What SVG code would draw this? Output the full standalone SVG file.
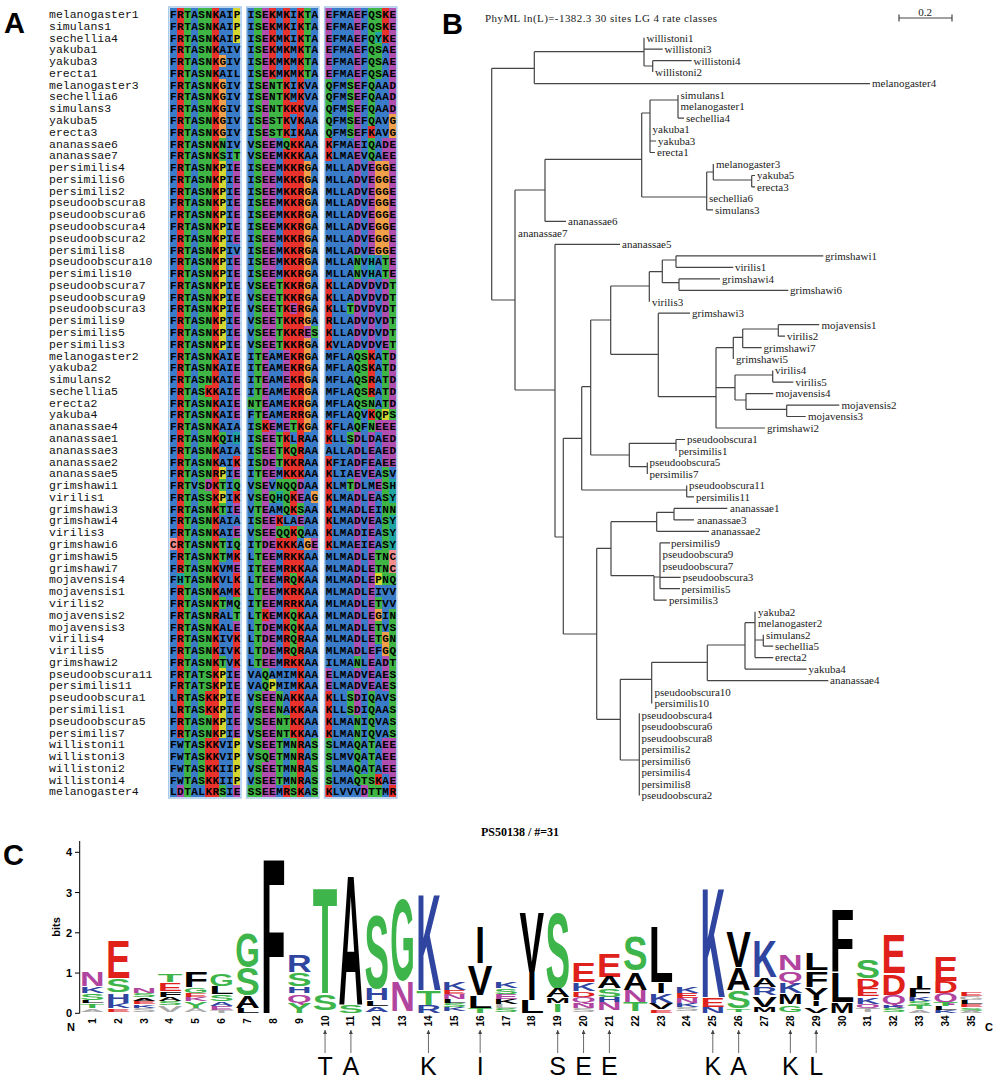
<svg xmlns="http://www.w3.org/2000/svg" width="1000" height="1085" viewBox="0 0 1000 1085">
<style>
.b{fill:#3a7cc8}.r{fill:#e8322b}.g{fill:#3fb545}.m{fill:#b04fb0}.o{fill:#f0a04a}.y{fill:#d6d630}.c{fill:#1fa3a3}.p{fill:#f08c8c}
.pl{font-family:'Liberation Sans',Arial,sans-serif;font-weight:bold;font-size:29px;fill:#000}
.nm{font-family:'Liberation Mono','Courier New',monospace;font-size:11.5px;fill:#111}
.sq{font-family:'Liberation Mono','Courier New',monospace;font-weight:bold;font-size:11px;fill:#000}
.tl{font-family:'Liberation Serif','Times New Roman',serif;font-size:11px;fill:#222}
.tr{fill:none;stroke:#444;stroke-width:1.2}
.L{font-family:'Liberation Sans',Arial,sans-serif;font-weight:bold;font-size:100px}
.lg{fill:#3db54a}.lb{fill:#2f45a0}.lr{fill:#e0201b}.lm{fill:#b0449e}.lk{fill:#000}.lx{fill:#aaa}
.ax{font-family:'Liberation Sans',Arial,sans-serif;font-weight:bold;font-size:11px;fill:#000}
.cn{font-family:'Liberation Sans',Arial,sans-serif;font-weight:bold;font-size:10px;fill:#000}
.al{font-family:'Liberation Sans',Arial,sans-serif;font-size:25px;fill:#000}
</style>
<defs>
<marker id="ah" viewBox="0 0 6 6" refX="6" refY="3" markerWidth="5" markerHeight="5" orient="auto"><path d="M0,0 L6,3 L0,6 z" fill="#444"/></marker>
</defs>
<rect width="1000" height="1085" fill="#fff"/>

<!-- Panel A -->
<g id="panelA">
<text class="pl" x="4" y="33">A</text>
<g id="aln-colors" transform="translate(169.5,8) scale(7.08,11.78)" shape-rendering="crispEdges">
<rect class="b" x="0" y="0" width="1" height="67"/><rect class="p" x="0" y="45" width="1" height="1"/>
<rect class="r" x="1" y="0" width="1" height="67"/><rect class="c" x="1" y="48" width="1" height="1"/><rect class="b" x="1" y="62" width="1" height="4"/><rect class="m" x="1" y="66" width="1" height="1"/>
<rect class="g" x="2" y="0" width="1" height="67"/>
<rect class="b" x="3" y="0" width="1" height="67"/>
<rect class="g" x="4" y="0" width="1" height="67"/><rect class="b" x="4" y="66" width="1" height="1"/>
<rect class="g" x="5" y="0" width="1" height="67"/><rect class="r" x="5" y="32" width="1" height="1"/><rect class="m" x="5" y="40" width="1" height="1"/><rect class="r" x="5" y="58" width="1" height="2"/><rect class="r" x="5" y="62" width="1" height="5"/>
<rect class="r" x="6" y="0" width="1" height="67"/>
<rect class="b" x="7" y="0" width="1" height="67"/><rect class="o" x="7" y="4" width="1" height="1"/><rect class="o" x="7" y="6" width="1" height="5"/><rect class="g" x="7" y="11" width="1" height="2"/><rect class="y" x="7" y="13" width="1" height="16"/><rect class="g" x="7" y="36" width="1" height="1"/><rect class="y" x="7" y="39" width="1" height="1"/><rect class="g" x="7" y="40" width="1" height="1"/><rect class="y" x="7" y="41" width="1" height="1"/><rect class="g" x="7" y="42" width="1" height="1"/><rect class="g" x="7" y="45" width="1" height="2"/><rect class="g" x="7" y="50" width="1" height="1"/><rect class="g" x="7" y="55" width="1" height="1"/><rect class="y" x="7" y="56" width="1" height="6"/><rect class="g" x="7" y="66" width="1" height="1"/>
<rect class="b" x="8" y="0" width="1" height="67"/>
<rect class="m" x="9" y="0" width="1" height="67"/><rect class="y" x="9" y="0" width="1" height="3"/><rect class="b" x="9" y="3" width="1" height="9"/><rect class="g" x="9" y="12" width="1" height="1"/><rect class="b" x="9" y="20" width="1" height="1"/><rect class="b" x="9" y="35" width="1" height="1"/><rect class="c" x="9" y="36" width="1" height="1"/><rect class="b" x="9" y="37" width="1" height="1"/><rect class="r" x="9" y="38" width="1" height="1"/><rect class="g" x="9" y="40" width="1" height="1"/><rect class="r" x="9" y="41" width="1" height="1"/><rect class="b" x="9" y="43" width="1" height="1"/><rect class="g" x="9" y="45" width="1" height="1"/><rect class="r" x="9" y="46" width="1" height="1"/><rect class="r" x="9" y="48" width="1" height="2"/><rect class="g" x="9" y="50" width="1" height="2"/><rect class="r" x="9" y="53" width="1" height="3"/><rect class="y" x="9" y="62" width="1" height="4"/>

<rect class="b" x="11" y="0" width="1" height="67"/><rect class="g" x="11" y="33" width="1" height="1"/><rect class="g" x="11" y="66" width="1" height="1"/>
<rect class="g" x="12" y="0" width="1" height="67"/><rect class="b" x="12" y="56" width="1" height="2"/>
<rect class="m" x="13" y="0" width="1" height="67"/><rect class="r" x="13" y="35" width="1" height="1"/><rect class="r" x="13" y="51" width="1" height="1"/><rect class="g" x="13" y="56" width="1" height="2"/><rect class="g" x="13" y="63" width="1" height="1"/>
<rect class="m" x="14" y="0" width="1" height="67"/><rect class="r" x="14" y="0" width="1" height="6"/><rect class="g" x="14" y="6" width="1" height="5"/><rect class="b" x="14" y="29" width="1" height="6"/><rect class="b" x="14" y="40" width="1" height="1"/><rect class="g" x="14" y="41" width="1" height="1"/><rect class="b" x="14" y="42" width="1" height="1"/><rect class="b" x="14" y="56" width="1" height="1"/><rect class="y" x="14" y="57" width="1" height="1"/>
<rect class="b" x="15" y="0" width="1" height="67"/><rect class="g" x="15" y="6" width="1" height="5"/><rect class="g" x="15" y="23" width="1" height="6"/><rect class="g" x="15" y="36" width="1" height="3"/><rect class="g" x="15" y="40" width="1" height="1"/><rect class="c" x="15" y="41" width="1" height="1"/><rect class="r" x="15" y="43" width="1" height="1"/><rect class="g" x="15" y="44" width="1" height="1"/><rect class="r" x="15" y="45" width="1" height="1"/><rect class="g" x="15" y="58" width="1" height="8"/>
<rect class="r" x="16" y="0" width="1" height="67"/><rect class="g" x="16" y="11" width="1" height="1"/><rect class="m" x="16" y="29" width="1" height="7"/><rect class="g" x="16" y="40" width="1" height="3"/><rect class="b" x="16" y="43" width="1" height="1"/><rect class="g" x="16" y="44" width="1" height="1"/><rect class="b" x="16" y="56" width="1" height="4"/><rect class="g" x="16" y="60" width="1" height="2"/><rect class="b" x="16" y="62" width="1" height="4"/>
<rect class="r" x="17" y="0" width="1" height="67"/><rect class="b" x="17" y="0" width="1" height="8"/><rect class="b" x="17" y="9" width="1" height="2"/><rect class="m" x="17" y="25" width="1" height="1"/><rect class="g" x="17" y="35" width="1" height="1"/><rect class="b" x="17" y="36" width="1" height="1"/><rect class="g" x="17" y="37" width="1" height="1"/><rect class="g" x="17" y="40" width="1" height="1"/><rect class="b" x="17" y="43" width="1" height="1"/><rect class="g" x="17" y="48" width="1" height="1"/><rect class="g" x="17" y="51" width="1" height="4"/><rect class="b" x="17" y="56" width="1" height="2"/><rect class="g" x="17" y="62" width="1" height="5"/>
<rect class="r" x="18" y="0" width="1" height="67"/><rect class="m" x="18" y="40" width="1" height="2"/><rect class="g" x="18" y="42" width="1" height="1"/><rect class="m" x="18" y="43" width="1" height="1"/><rect class="g" x="18" y="44" width="1" height="1"/><rect class="b" x="18" y="45" width="1" height="1"/>
<rect class="b" x="19" y="0" width="1" height="67"/><rect class="g" x="19" y="0" width="1" height="6"/><rect class="o" x="19" y="13" width="1" height="14"/><rect class="m" x="19" y="27" width="1" height="1"/><rect class="o" x="19" y="28" width="1" height="8"/><rect class="o" x="19" y="45" width="1" height="1"/>
<rect class="b" x="20" y="0" width="1" height="67"/><rect class="g" x="20" y="27" width="1" height="1"/><rect class="o" x="20" y="41" width="1" height="1"/><rect class="m" x="20" y="45" width="1" height="1"/><rect class="g" x="20" y="62" width="1" height="5"/>

<rect class="b" x="22" y="0" width="1" height="67"/><rect class="m" x="22" y="0" width="1" height="6"/><rect class="g" x="22" y="6" width="1" height="5"/><rect class="r" x="22" y="11" width="1" height="2"/><rect class="r" x="22" y="23" width="1" height="6"/><rect class="r" x="22" y="35" width="1" height="2"/><rect class="r" x="22" y="38" width="1" height="8"/><rect class="m" x="22" y="56" width="1" height="2"/><rect class="r" x="22" y="58" width="1" height="4"/><rect class="g" x="22" y="62" width="1" height="4"/><rect class="r" x="22" y="66" width="1" height="1"/>
<rect class="b" x="23" y="0" width="2" height="67"/>
<rect class="b" x="25" y="0" width="1" height="67"/><rect class="g" x="25" y="6" width="1" height="5"/><rect class="g" x="25" y="25" width="1" height="1"/><rect class="g" x="25" y="36" width="1" height="1"/><rect class="g" x="25" y="40" width="1" height="1"/><rect class="g" x="25" y="58" width="1" height="2"/>
<rect class="m" x="26" y="0" width="1" height="67"/><rect class="g" x="26" y="21" width="1" height="2"/><rect class="g" x="26" y="29" width="1" height="7"/><rect class="g" x="26" y="55" width="1" height="1"/><rect class="g" x="26" y="60" width="1" height="6"/><rect class="b" x="26" y="66" width="1" height="1"/>
<rect class="b" x="27" y="0" width="1" height="67"/><rect class="g" x="27" y="29" width="1" height="5"/><rect class="g" x="27" y="65" width="1" height="1"/><rect class="m" x="27" y="66" width="1" height="1"/>
<rect class="m" x="28" y="0" width="1" height="67"/><rect class="g" x="28" y="0" width="1" height="10"/><rect class="r" x="28" y="10" width="1" height="1"/><rect class="g" x="28" y="11" width="1" height="2"/><rect class="c" x="28" y="21" width="1" height="2"/><rect class="r" x="28" y="29" width="1" height="4"/><rect class="g" x="28" y="33" width="1" height="1"/><rect class="r" x="28" y="34" width="1" height="1"/><rect class="g" x="28" y="35" width="1" height="1"/><rect class="b" x="28" y="40" width="1" height="1"/><rect class="g" x="28" y="58" width="1" height="9"/>
<rect class="b" x="29" y="0" width="1" height="67"/><rect class="g" x="29" y="0" width="1" height="2"/><rect class="c" x="29" y="2" width="1" height="1"/><rect class="g" x="29" y="3" width="1" height="3"/><rect class="o" x="29" y="13" width="1" height="8"/><rect class="g" x="29" y="34" width="1" height="1"/><rect class="m" x="29" y="35" width="1" height="1"/><rect class="m" x="29" y="40" width="1" height="1"/><rect class="g" x="29" y="46" width="1" height="2"/><rect class="y" x="29" y="48" width="1" height="1"/><rect class="g" x="29" y="50" width="1" height="1"/><rect class="o" x="29" y="51" width="1" height="1"/><rect class="g" x="29" y="52" width="1" height="2"/><rect class="r" x="29" y="65" width="1" height="1"/><rect class="g" x="29" y="66" width="1" height="1"/>
<rect class="m" x="30" y="0" width="1" height="67"/><rect class="r" x="30" y="0" width="1" height="3"/><rect class="b" x="30" y="3" width="1" height="8"/><rect class="o" x="30" y="13" width="1" height="8"/><rect class="g" x="30" y="21" width="1" height="2"/><rect class="g" x="30" y="29" width="1" height="5"/><rect class="y" x="30" y="34" width="1" height="1"/><rect class="g" x="30" y="39" width="1" height="10"/><rect class="b" x="30" y="49" width="1" height="4"/><rect class="o" x="30" y="53" width="1" height="2"/><rect class="b" x="30" y="58" width="1" height="4"/><rect class="b" x="30" y="65" width="1" height="2"/>
<rect class="m" x="31" y="0" width="1" height="67"/><rect class="o" x="31" y="9" width="1" height="2"/><rect class="g" x="31" y="23" width="1" height="6"/><rect class="g" x="31" y="34" width="1" height="1"/><rect class="b" x="31" y="39" width="1" height="1"/><rect class="c" x="31" y="40" width="1" height="2"/><rect class="g" x="31" y="42" width="1" height="1"/><rect class="c" x="31" y="43" width="1" height="3"/><rect class="p" x="31" y="46" width="1" height="2"/><rect class="g" x="31" y="48" width="1" height="1"/><rect class="b" x="31" y="49" width="1" height="2"/><rect class="g" x="31" y="51" width="1" height="11"/><rect class="r" x="31" y="66" width="1" height="1"/>
</g>
<g id="aln-frames" fill="none" stroke="#a9c9ea" stroke-width="1.5">
<rect x="168.8" y="7" width="72.2" height="791"/>
<rect x="246.7" y="7" width="72.2" height="791"/>
<rect x="324.6" y="7" width="72.2" height="791"/>
</g>
<g id="names" class="nm">
<text x="49" y="17.9">melanogaster1</text>
<text x="49" y="29.7">simulans1</text>
<text x="49" y="41.5">sechellia4</text>
<text x="49" y="53.2">yakuba1</text>
<text x="49" y="65.0">yakuba3</text>
<text x="49" y="76.8">erecta1</text>
<text x="49" y="88.6">melanogaster3</text>
<text x="49" y="100.4">sechellia6</text>
<text x="49" y="112.1">simulans3</text>
<text x="49" y="123.9">yakuba5</text>
<text x="49" y="135.7">erecta3</text>
<text x="49" y="147.5">ananassae6</text>
<text x="49" y="159.3">ananassae7</text>
<text x="49" y="171.0">persimilis4</text>
<text x="49" y="182.8">persimilis6</text>
<text x="49" y="194.6">persimilis2</text>
<text x="49" y="206.4">pseudoobscura8</text>
<text x="49" y="218.2">pseudoobscura6</text>
<text x="49" y="229.9">pseudoobscura4</text>
<text x="49" y="241.7">pseudoobscura2</text>
<text x="49" y="253.5">persimilis8</text>
<text x="49" y="265.3">pseudoobscura10</text>
<text x="49" y="277.1">persimilis10</text>
<text x="49" y="288.8">pseudoobscura7</text>
<text x="49" y="300.6">pseudoobscura9</text>
<text x="49" y="312.4">pseudoobscura3</text>
<text x="49" y="324.2">persimilis9</text>
<text x="49" y="335.9">persimilis5</text>
<text x="49" y="347.7">persimilis3</text>
<text x="49" y="359.5">melanogaster2</text>
<text x="49" y="371.3">yakuba2</text>
<text x="49" y="383.1">simulans2</text>
<text x="49" y="394.9">sechellia5</text>
<text x="49" y="406.6">erecta2</text>
<text x="49" y="418.4">yakuba4</text>
<text x="49" y="430.2">ananassae4</text>
<text x="49" y="442.0">ananassae1</text>
<text x="49" y="453.8">ananassae3</text>
<text x="49" y="465.5">ananassae2</text>
<text x="49" y="477.3">ananassae5</text>
<text x="49" y="489.1">grimshawi1</text>
<text x="49" y="500.9">virilis1</text>
<text x="49" y="512.7">grimshawi3</text>
<text x="49" y="524.4">grimshawi4</text>
<text x="49" y="536.2">virilis3</text>
<text x="49" y="548.0">grimshawi6</text>
<text x="49" y="559.8">grimshawi5</text>
<text x="49" y="571.6">grimshawi7</text>
<text x="49" y="583.3">mojavensis4</text>
<text x="49" y="595.1">mojavensis1</text>
<text x="49" y="606.9">virilis2</text>
<text x="49" y="618.7">mojavensis2</text>
<text x="49" y="630.5">mojavensis3</text>
<text x="49" y="642.2">virilis4</text>
<text x="49" y="654.0">virilis5</text>
<text x="49" y="665.8">grimshawi2</text>
<text x="49" y="677.6">pseudoobscura11</text>
<text x="49" y="689.4">persimilis11</text>
<text x="49" y="701.1">pseudoobscura1</text>
<text x="49" y="712.9">persimilis1</text>
<text x="49" y="724.7">pseudoobscura5</text>
<text x="49" y="736.5">persimilis7</text>
<text x="49" y="748.3">willistoni1</text>
<text x="49" y="760.0">willistoni3</text>
<text x="49" y="771.8">willistoni2</text>
<text x="49" y="783.6">willistoni4</text>
<text x="49" y="795.4">melanogaster4</text>
</g>
<g id="sequences" class="sq">
<text x="170" y="17.9" textLength="226" lengthAdjust="spacing">FRTASNKAIP ISEKMKIKTA EFMAEFQSKE</text>
<text x="170" y="29.7" textLength="226" lengthAdjust="spacing">FRTASNKAIP ISEKMKIKTA EFMAEFQSKE</text>
<text x="170" y="41.5" textLength="226" lengthAdjust="spacing">FRTASNKAIP ISEKMKIKTA EFMAEFQYKE</text>
<text x="170" y="53.2" textLength="226" lengthAdjust="spacing">FRTASNKAIV ISEKMKMKTA EFMAEFQSAE</text>
<text x="170" y="65.0" textLength="226" lengthAdjust="spacing">FRTASNKGIV ISEKMKMKTA EFMAEFQSAE</text>
<text x="170" y="76.8" textLength="226" lengthAdjust="spacing">FRTASNKAIL ISEKMKMKTA EFMAEFQSAE</text>
<text x="170" y="88.6" textLength="226" lengthAdjust="spacing">FRTASNKGIV ISENTKIKVA QFMSEFQAAD</text>
<text x="170" y="100.4" textLength="226" lengthAdjust="spacing">FRTASNKGIV ISENTKMKVA QFMSEFQAAD</text>
<text x="170" y="112.1" textLength="226" lengthAdjust="spacing">FRTASNKGIV ISENTKKKVA QFMSEFQAAD</text>
<text x="170" y="123.9" textLength="226" lengthAdjust="spacing">FRTASNKGIV ISESTKVKAA QFMSEFQAVG</text>
<text x="170" y="135.7" textLength="226" lengthAdjust="spacing">FRTASNKGIV ISESTKIKAA QFMSEFKAVG</text>
<text x="170" y="147.5" textLength="226" lengthAdjust="spacing">FRTASNKNIV VSEEMQKKAA KFMAEIQADE</text>
<text x="170" y="159.3" textLength="226" lengthAdjust="spacing">FRTASNKSIT VSEEMKKKAA KLMAEVQAEE</text>
<text x="170" y="171.0" textLength="226" lengthAdjust="spacing">FRTASNKPIE ISEEMKKRGA MLLADVEGGE</text>
<text x="170" y="182.8" textLength="226" lengthAdjust="spacing">FRTASNKPIE ISEEMKKRGA MLLADVEGGE</text>
<text x="170" y="194.6" textLength="226" lengthAdjust="spacing">FRTASNKPIE ISEEMKKRGA MLLADVEGGE</text>
<text x="170" y="206.4" textLength="226" lengthAdjust="spacing">FRTASNKPIE ISEEMKKRGA MLLADVEGGE</text>
<text x="170" y="218.2" textLength="226" lengthAdjust="spacing">FRTASNKPIE ISEEMKKRGA MLLADVEGGE</text>
<text x="170" y="229.9" textLength="226" lengthAdjust="spacing">FRTASNKPIE ISEEMKKRGA MLLADVEGGE</text>
<text x="170" y="241.7" textLength="226" lengthAdjust="spacing">FRTASNKPIE ISEEMKKRGA MLLADVEGGE</text>
<text x="170" y="253.5" textLength="226" lengthAdjust="spacing">FRTASNKPIV ISEEMKKRGA MLLADVEGGE</text>
<text x="170" y="265.3" textLength="226" lengthAdjust="spacing">FRTASNKPIE ISEEMKKRGA MLLANVHATE</text>
<text x="170" y="277.1" textLength="226" lengthAdjust="spacing">FRTASNKPIE ISEEMKKRGA MLLANVHATE</text>
<text x="170" y="288.8" textLength="226" lengthAdjust="spacing">FRTASNKPIE VSEETKKRGA KLLADVDVDT</text>
<text x="170" y="300.6" textLength="226" lengthAdjust="spacing">FRTASNKPIE VSEETKKRGA KLLADVDVDT</text>
<text x="170" y="312.4" textLength="226" lengthAdjust="spacing">FRTASNKPIE VSEETKERGA KLLTDVDVDT</text>
<text x="170" y="324.2" textLength="226" lengthAdjust="spacing">FRTASNKPIE VSEETKKRGA RLLADVDVDT</text>
<text x="170" y="335.9" textLength="226" lengthAdjust="spacing">FRTASNKPIE VSEETKKRES KLLADVDVDT</text>
<text x="170" y="347.7" textLength="226" lengthAdjust="spacing">FRTASNKPIE VSEETKKRGA KVLADVDVET</text>
<text x="170" y="359.5" textLength="226" lengthAdjust="spacing">FRTASNKAIE ITEAMEKRGA MFLAQSKATD</text>
<text x="170" y="371.3" textLength="226" lengthAdjust="spacing">FRTASNKAIE ITEAMEKRGA MFLAQSKATD</text>
<text x="170" y="383.1" textLength="226" lengthAdjust="spacing">FRTASNKAIE ITEAMEKRGA MFLAQSRATD</text>
<text x="170" y="394.9" textLength="226" lengthAdjust="spacing">FRTASKKAIE ITEAMEKRGA MFLAQSRATD</text>
<text x="170" y="406.6" textLength="226" lengthAdjust="spacing">FRTASNKAIE NTEAMEKRGA MFLAQSNATD</text>
<text x="170" y="418.4" textLength="226" lengthAdjust="spacing">FRTASNKAIE FTEAMERRGA MFLAQVKQPS</text>
<text x="170" y="430.2" textLength="226" lengthAdjust="spacing">FRTASNKAIA ISKEMETKGA KFLAQFNEEE</text>
<text x="170" y="442.0" textLength="226" lengthAdjust="spacing">FRTASNKQIH ISEETKLRAA KLLSDLDAED</text>
<text x="170" y="453.8" textLength="226" lengthAdjust="spacing">FRTASNKAIA ISEETKQRAA ALLADLEAED</text>
<text x="170" y="465.5" textLength="226" lengthAdjust="spacing">FRTASNKAIK ISDETKKRAA KFIADFEAEE</text>
<text x="170" y="477.3" textLength="226" lengthAdjust="spacing">FRTASNRPIE ITEEMKKKAA KLIAEVEASV</text>
<text x="170" y="489.1" textLength="226" lengthAdjust="spacing">FRTVSDKTIQ VSEVNQQDAA KLMTDLMESH</text>
<text x="170" y="500.9" textLength="226" lengthAdjust="spacing">FRTASSKPIK VSEQHQKEAG KLMADLEASY</text>
<text x="170" y="512.7" textLength="226" lengthAdjust="spacing">FRTASNKTIE VTEAMQKSAA KLMADLEINN</text>
<text x="170" y="524.4" textLength="226" lengthAdjust="spacing">FRTASNKAIA ISEEKLAEAA KLMADVEASY</text>
<text x="170" y="536.2" textLength="226" lengthAdjust="spacing">FRTASNKAIE VSEEQQKQAA KLMADIEASY</text>
<text x="170" y="548.0" textLength="226" lengthAdjust="spacing">CRTASNKTIQ ITDEKKKAGE KLMAEIEASY</text>
<text x="170" y="559.8" textLength="226" lengthAdjust="spacing">FRTASNKTMK LTEEMRKKAA MLMADLETNC</text>
<text x="170" y="571.6" textLength="226" lengthAdjust="spacing">FRTASNKVME ITEEMRKKAA MLMADLETNC</text>
<text x="170" y="583.3" textLength="226" lengthAdjust="spacing">FHTASNKVLK LTEEMRQKAA MLMADLEPNQ</text>
<text x="170" y="595.1" textLength="226" lengthAdjust="spacing">FRTASNKAMK LTEEMKRKAA MLMADLEIVV</text>
<text x="170" y="606.9" textLength="226" lengthAdjust="spacing">FRTASNKTMQ ITEEMRRKAA MLMADLETVV</text>
<text x="170" y="618.7" textLength="226" lengthAdjust="spacing">FRTASNRALT LTKEMKQKAA MLMADLEGIN</text>
<text x="170" y="630.5" textLength="226" lengthAdjust="spacing">FRTASNKALE LTDEMKQKAA MLMADLETVS</text>
<text x="170" y="642.2" textLength="226" lengthAdjust="spacing">FRTASNKIVK LTDEMRQRAA MLMADLETGN</text>
<text x="170" y="654.0" textLength="226" lengthAdjust="spacing">FRTASNKIVK LTDEMRQRAA MLMADLEFGQ</text>
<text x="170" y="665.8" textLength="226" lengthAdjust="spacing">FRTASNKTVK LTEEMRKKAA ILMANLEADT</text>
<text x="170" y="677.6" textLength="226" lengthAdjust="spacing">FRTATSKPIE VAQAMIMKAA ELMADVEAES</text>
<text x="170" y="689.4" textLength="226" lengthAdjust="spacing">FRTATSKPIE VAQPMIMKAA ELMADVEAES</text>
<text x="170" y="701.1" textLength="226" lengthAdjust="spacing">LRTASKKPIE VSEENAKKAA KLLSDIQAVS</text>
<text x="170" y="712.9" textLength="226" lengthAdjust="spacing">LRTASKKPIE VSEENAKKAA KLLSDIQAAS</text>
<text x="170" y="724.7" textLength="226" lengthAdjust="spacing">FRTASNKPIE VSEENTKKAA KLMANIQVAS</text>
<text x="170" y="736.5" textLength="226" lengthAdjust="spacing">FRTASNKPIE VSEENTKKAA KLMANIQVAS</text>
<text x="170" y="748.3" textLength="226" lengthAdjust="spacing">FWTASKKVIP VSEETMNRAS SLMAQATAEE</text>
<text x="170" y="760.0" textLength="226" lengthAdjust="spacing">FWTASKKVIP VSQETMNRAS SLMVQATAEE</text>
<text x="170" y="771.8" textLength="226" lengthAdjust="spacing">FWTASKKIIP VSEETMNRAS SLMAQATAEE</text>
<text x="170" y="783.6" textLength="226" lengthAdjust="spacing">FWTASKKIIP VSEETMNRAS SLMAQTSKAE</text>
<text x="170" y="795.4" textLength="226" lengthAdjust="spacing">LDTALKRSIE SSEEMRSKAS KLVVVDTTMR</text>
</g>
</g>

<!-- Panel B -->
<g id="panelB">
<text class="pl" x="442" y="33.5">B</text>
<text class="tl" x="485" y="22" font-size="12" textLength="232" lengthAdjust="spacing">PhyML ln(L)=-1382.3 30 sites LG 4 rate classes</text>
<g id="scalebar">
<path class="tr" d="M899 18 H952 M899 14.5 V21.5 M952 14.5 V21.5"/>
<text class="tl" x="925" y="15.5" text-anchor="middle">0.2</text>
</g>
<g id="tree-connectors">
<path class="tr" d="M491.7 68.3 V300 M491.7 68.3 H534.3 M534.3 51.7 V83.6 M534.3 51.7 H644 M534.3 83.6 H870
M644 37.7 V66 M644 49.2 H662.7 M644 66 H652.7 M652.7 60.7 V72.1 M652.7 60.7 H691.7
M491.7 300 H515 M515 190 V390 M515 190 H545 M545 159.3 V221.4 M545 221.4 H566 M545 159.3 H641.7
M641.7 113 V197 M641.7 113 H650 M641.7 197 H706.7
M650 100 V152.5 M650 141 H656 M650 152.5 H655 M650 100 H678 M678 95.1 V118.1 M678 118.1 H684
M706.7 172 V209.9 M706.7 172 H713.3 M713.3 164 V180 M713.3 180 H751.7 M751.7 175.5 V186.9 M751.7 175.5 H755 M751.7 186.9 H755 M706.7 209.9 H713
M515 390 H555 M555 244.3 V537 M555 244.3 H620
M555 537 H563.3 M563.3 438.3 V634
M563.3 438.3 H581.7 M581.7 386.7 V490
M581.7 386.7 H590.7 M590.7 320 V455
M590.7 320 H610.7 M610.7 286 V354.3
M610.7 286 H649.3 M649.3 271.7 V301.7
M649.3 271.7 H662.3 M662.3 260 V282.7
M662.3 260 H676 M676 255.8 V267.3 M676 255.8 H823.3 M676 267.3 H733.3
M662.3 282.7 H679 M679 278.8 V290.3 M679 278.8 H720 M679 290.3 H788.3
M610.7 354.3 H658.3 M658.3 313.2 V396.7 M658.3 313.2 H690
M658.3 396.7 H716 M716 347.7 V428 M716 428 H765
M716 347.7 H733.3 M733.3 337.3 V359.1
M733.3 337.3 H742.7 M742.7 329 V347.7 M742.7 347.7 H761.7
M742.7 329 H778.3 M778.3 324.7 V336.2 M778.3 324.7 H819.3 M778.3 336.2 H785
M716 387.7 H735 M735 375 V400
M735 375 H772.7 M772.7 370.6 V382.1 M772.7 382.1 H793.3
M735 400 H746 M746 393.6 V409.3 M746 393.6 H773.3
M746 409.3 H786.7 M786.7 405.1 V416.5 M786.7 405.1 H839.3 M786.7 416.5 H805.7
M590.7 455 H629.3 M629.3 443.3 V466.7
M629.3 443.3 H676 M676 439.5 V451 M676 439.5 H685
M629.3 466.7 H647.3 M647.3 462.5 V473.9
M581.7 490 H686.7 M686.7 485.4 V496.9 M686.7 496.9 H694
M563.3 634 H596.7 M596.7 548.3 V719.3
M596.7 548.3 H611 M611 521.7 V575.7
M611 521.7 H656.7 M656.7 512.3 V531.3 M656.7 531.3 H709
M656.7 512.3 H674 M674 508.4 V519.9 M674 508.4 H727.3 M674 519.9 H694
M611 575.7 H654 M654 575.7 V600.2 M654 600.2 H666.7
M654 577 H660 M660 542.8 V588.7 M660 542.8 H670 M660 577.3 H680.7 M660 588.7 H680
M596.7 719.3 H620.3 M620.3 679.3 V760
M620.3 679.3 H651.7 M651.7 662.3 V703.5
M651.7 662.3 H707.3 M707.3 645 V680.6 M707.3 680.6 H828.3
M707.3 645 H745 M745 622.7 V669.1 M745 669.1 H806.7
M745 622.7 H755 M755 611.7 V657.6 M755 657.6 H773.3
M755 640 H763.3 M763.3 634.7 V646.1 M763.3 646.1 H773.3
M620.3 760 H639.3 M639.3 713.3 V795.4"/>
</g>
<g id="leaves" class="tl">
<text x="646.5" y="41.5">willistoni1</text>
<text x="664.5" y="53.0">willistoni3</text>
<text x="693.5" y="64.5">willistoni4</text>
<text x="655" y="75.9">willistoni2</text>
<text x="872" y="87.4">melanogaster4</text>
<text x="680.5" y="98.9">simulans1</text>
<text x="680.5" y="110.4">melanogaster1</text>
<text x="686" y="121.9">sechellia4</text>
<text x="652.5" y="133.3">yakuba1</text>
<text x="658" y="144.8">yakuba3</text>
<text x="657" y="156.3">erecta1</text>
<text x="716" y="167.8">melanogaster3</text>
<text x="757" y="179.3">yakuba5</text>
<text x="757" y="190.7">erecta3</text>
<text x="709" y="202.2">sechellia6</text>
<text x="715" y="213.7">simulans3</text>
<text x="568" y="225.2">ananassae6</text>
<text x="518" y="236.7">ananassae7</text>
<text x="622" y="248.1">ananassae5</text>
<text x="825" y="259.6">grimshawi1</text>
<text x="735" y="271.1">virilis1</text>
<text x="722" y="282.6">grimshawi4</text>
<text x="790" y="294.1">grimshawi6</text>
<text x="652" y="305.5">virilis3</text>
<text x="692" y="317.0">grimshawi3</text>
<text x="821.5" y="328.5">mojavensis1</text>
<text x="787" y="340.0">virilis2</text>
<text x="763.5" y="351.5">grimshawi7</text>
<text x="736" y="362.9">grimshawi5</text>
<text x="775" y="374.4">virilis4</text>
<text x="795.5" y="385.9">virilis5</text>
<text x="775.5" y="397.4">mojavensis4</text>
<text x="841.5" y="408.9">mojavensis2</text>
<text x="808" y="420.3">mojavensis3</text>
<text x="767" y="431.8">grimshawi2</text>
<text x="687" y="443.3">pseudoobscura1</text>
<text x="678.5" y="454.8">persimilis1</text>
<text x="649.5" y="466.3">pseudoobscura5</text>
<text x="649.5" y="477.7">persimilis7</text>
<text x="689" y="489.2">pseudoobscura11</text>
<text x="696" y="500.7">persimilis11</text>
<text x="730" y="512.2">ananassae1</text>
<text x="697" y="523.7">ananassae3</text>
<text x="711" y="535.1">ananassae2</text>
<text x="671" y="546.6">persimilis9</text>
<text x="662.5" y="558.1">pseudoobscura9</text>
<text x="662.5" y="569.6">pseudoobscura7</text>
<text x="682.5" y="581.1">pseudoobscura3</text>
<text x="681.5" y="592.5">persimilis5</text>
<text x="669" y="604.0">persimilis3</text>
<text x="758" y="615.5">yakuba2</text>
<text x="758" y="627.0">melanogaster2</text>
<text x="766" y="638.5">simulans2</text>
<text x="775" y="649.9">sechellia5</text>
<text x="775" y="661.4">erecta2</text>
<text x="808.5" y="672.9">yakuba4</text>
<text x="830" y="684.4">ananassae4</text>
<text x="654.5" y="695.9">pseudoobscura10</text>
<text x="654.5" y="707.3">persimilis10</text>
<text x="641.5" y="718.8">pseudoobscura4</text>
<text x="641.5" y="730.3">pseudoobscura6</text>
<text x="641.5" y="741.8">pseudoobscura8</text>
<text x="641.5" y="753.3">persimilis2</text>
<text x="641.5" y="764.7">persimilis6</text>
<text x="641.5" y="776.2">persimilis4</text>
<text x="641.5" y="787.7">persimilis8</text>
<text x="641.5" y="799.2">pseudoobscura2</text>
</g>
</g>

<!-- Panel C -->
<g id="panelC">
<text class="pl" x="3" y="865">C</text>
<text x="520" y="836" text-anchor="middle" font-family="'Liberation Serif','Times New Roman',serif" font-weight="bold" font-size="12">PS50138 / #=31</text>
<g id="axis">
<path d="M79.7 841 V1013.3 M75 1013.3 H79.7 M75 973.05 H79.7 M75 932.8 H79.7 M75 892.55 H79.7 M75 852.3 H79.7" stroke="#000" stroke-width="1" fill="none"/>
<text class="ax" x="72" y="1017.3" text-anchor="end">0</text>
<text class="ax" x="72" y="977" text-anchor="end">1</text>
<text class="ax" x="72" y="936.8" text-anchor="end">2</text>
<text class="ax" x="72" y="896.5" text-anchor="end">3</text>
<text class="ax" x="72" y="856.3" text-anchor="end">4</text>
<text class="ax" transform="translate(60,927) rotate(-90)" text-anchor="middle">bits</text>
<text class="ax" x="67" y="1031" font-size="12">N</text>
<text class="ax" x="985" y="1031" font-size="12">C</text>
</g>
<g id="colnums" class="cn" text-anchor="middle">
<text transform="translate(92.4,1021) rotate(-90)" y="3.5">1</text>
<text transform="translate(118.25,1021) rotate(-90)" y="3.5">2</text>
<text transform="translate(144.1,1021) rotate(-90)" y="3.5">3</text>
<text transform="translate(169.95,1021) rotate(-90)" y="3.5">4</text>
<text transform="translate(195.8,1021) rotate(-90)" y="3.5">5</text>
<text transform="translate(221.65,1021) rotate(-90)" y="3.5">6</text>
<text transform="translate(247.5,1021) rotate(-90)" y="3.5">7</text>
<text transform="translate(273.35,1021) rotate(-90)" y="3.5">8</text>
<text transform="translate(299.2,1021) rotate(-90)" y="3.5">9</text>
<text transform="translate(325.05,1021) rotate(-90)" y="3.5">10</text>
<text transform="translate(350.9,1021) rotate(-90)" y="3.5">11</text>
<text transform="translate(376.75,1021) rotate(-90)" y="3.5">12</text>
<text transform="translate(402.6,1021) rotate(-90)" y="3.5">13</text>
<text transform="translate(428.45,1021) rotate(-90)" y="3.5">14</text>
<text transform="translate(454.3,1021) rotate(-90)" y="3.5">15</text>
<text transform="translate(480.15,1021) rotate(-90)" y="3.5">16</text>
<text transform="translate(506,1021) rotate(-90)" y="3.5">17</text>
<text transform="translate(531.85,1021) rotate(-90)" y="3.5">18</text>
<text transform="translate(557.7,1021) rotate(-90)" y="3.5">19</text>
<text transform="translate(583.55,1021) rotate(-90)" y="3.5">20</text>
<text transform="translate(609.4,1021) rotate(-90)" y="3.5">21</text>
<text transform="translate(635.25,1021) rotate(-90)" y="3.5">22</text>
<text transform="translate(661.1,1021) rotate(-90)" y="3.5">23</text>
<text transform="translate(686.95,1021) rotate(-90)" y="3.5">24</text>
<text transform="translate(712.8,1021) rotate(-90)" y="3.5">25</text>
<text transform="translate(738.65,1021) rotate(-90)" y="3.5">26</text>
<text transform="translate(764.5,1021) rotate(-90)" y="3.5">27</text>
<text transform="translate(790.35,1021) rotate(-90)" y="3.5">28</text>
<text transform="translate(816.2,1021) rotate(-90)" y="3.5">29</text>
<text transform="translate(842.05,1021) rotate(-90)" y="3.5">30</text>
<text transform="translate(867.9,1021) rotate(-90)" y="3.5">31</text>
<text transform="translate(893.75,1021) rotate(-90)" y="3.5">32</text>
<text transform="translate(919.6,1021) rotate(-90)" y="3.5">33</text>
<text transform="translate(945.45,1021) rotate(-90)" y="3.5">34</text>
<text transform="translate(971.3,1021) rotate(-90)" y="3.5">35</text>
</g>
<g id="logo">
<text class="L lm" transform="translate(80.1,985.7) scale(1,0.2)" textLength="24.6" lengthAdjust="spacingAndGlyphs">N</text>
<text class="L lb" transform="translate(80.1,992.7) scale(1,0.086)" textLength="24.6" lengthAdjust="spacingAndGlyphs">K</text>
<text class="L lg" transform="translate(80.1,999.5) scale(1,0.086)" textLength="24.6" lengthAdjust="spacingAndGlyphs">S</text>
<text class="L lk" transform="translate(80.1,1003) scale(1,0.043)" textLength="24.6" lengthAdjust="spacingAndGlyphs">L</text>
<text class="L lg" transform="translate(80.1,1008) scale(1,0.057)" textLength="24.6" lengthAdjust="spacingAndGlyphs">T</text>
<text class="L lx" transform="translate(80.1,1012) scale(1,0.043)" textLength="24.6" lengthAdjust="spacingAndGlyphs">A</text>

<text class="L lr" transform="translate(105.95,978.3) scale(1,0.537)" textLength="24.6" lengthAdjust="spacingAndGlyphs">E</text>
<text class="L lg" transform="translate(105.95,992.3) scale(1,0.186)" textLength="24.6" lengthAdjust="spacingAndGlyphs">S</text>
<text class="L lb" transform="translate(105.95,1002.5) scale(1,0.131)" textLength="24.6" lengthAdjust="spacingAndGlyphs">H</text>
<text class="L lb" transform="translate(105.95,1008.3) scale(1,0.071)" textLength="24.6" lengthAdjust="spacingAndGlyphs">K</text>
<text class="L lr" transform="translate(105.95,1012) scale(1,0.043)" textLength="24.6" lengthAdjust="spacingAndGlyphs">E</text>

<text class="L lm" transform="translate(131.8,992.7) scale(1,0.077)" textLength="24.6" lengthAdjust="spacingAndGlyphs">N</text>
<text class="L lg" transform="translate(131.8,997) scale(1,0.05)" textLength="24.6" lengthAdjust="spacingAndGlyphs">S</text>
<text class="L lk" transform="translate(131.8,1000.5) scale(1,0.043)" textLength="24.6" lengthAdjust="spacingAndGlyphs">A</text>
<text class="L lr" transform="translate(131.8,1004) scale(1,0.043)" textLength="24.6" lengthAdjust="spacingAndGlyphs">E</text>
<text class="L lb" transform="translate(131.8,1007.5) scale(1,0.043)" textLength="24.6" lengthAdjust="spacingAndGlyphs">K</text>
<text class="L lx" transform="translate(131.8,1012) scale(1,0.057)" textLength="24.6" lengthAdjust="spacingAndGlyphs">S</text>

<text class="L lg" transform="translate(157.65,981.7) scale(1,0.11)" textLength="24.6" lengthAdjust="spacingAndGlyphs">T</text>
<text class="L lr" transform="translate(157.65,991) scale(1,0.114)" textLength="24.6" lengthAdjust="spacingAndGlyphs">E</text>
<text class="L lk" transform="translate(157.65,997) scale(1,0.071)" textLength="24.6" lengthAdjust="spacingAndGlyphs">F</text>
<text class="L lk" transform="translate(157.65,1001) scale(1,0.05)" textLength="24.6" lengthAdjust="spacingAndGlyphs">A</text>
<text class="L lg" transform="translate(157.65,1005) scale(1,0.05)" textLength="24.6" lengthAdjust="spacingAndGlyphs">S</text>
<text class="L lx" transform="translate(157.65,1012) scale(1,0.093)" textLength="24.6" lengthAdjust="spacingAndGlyphs">V</text>

<text class="L lk" transform="translate(183.5,986.7) scale(1,0.214)" textLength="24.6" lengthAdjust="spacingAndGlyphs">F</text>
<text class="L lg" transform="translate(183.5,992.5) scale(1,0.064)" textLength="24.6" lengthAdjust="spacingAndGlyphs">G</text>
<text class="L lr" transform="translate(183.5,997) scale(1,0.057)" textLength="24.6" lengthAdjust="spacingAndGlyphs">E</text>
<text class="L lm" transform="translate(183.5,1001) scale(1,0.05)" textLength="24.6" lengthAdjust="spacingAndGlyphs">K</text>
<text class="L lg" transform="translate(183.5,1008) scale(1,0.086)" textLength="24.6" lengthAdjust="spacingAndGlyphs">Y</text>
<text class="L lx" transform="translate(183.5,1012) scale(1,0.05)" textLength="24.6" lengthAdjust="spacingAndGlyphs">A</text>

<text class="L lg" transform="translate(209.35,986) scale(1,0.157)" textLength="24.6" lengthAdjust="spacingAndGlyphs">G</text>
<text class="L lk" transform="translate(209.35,994) scale(1,0.104)" textLength="24.6" lengthAdjust="spacingAndGlyphs">L</text>
<text class="L lg" transform="translate(209.35,1001) scale(1,0.086)" textLength="24.6" lengthAdjust="spacingAndGlyphs">S</text>
<text class="L lb" transform="translate(209.35,1006) scale(1,0.057)" textLength="24.6" lengthAdjust="spacingAndGlyphs">A</text>
<text class="L lm" transform="translate(209.35,1010) scale(1,0.05)" textLength="24.6" lengthAdjust="spacingAndGlyphs">E</text>
<text class="L lx" transform="translate(209.35,1013) scale(1,0.043)" textLength="24.6" lengthAdjust="spacingAndGlyphs">T</text>

<text class="L lg" transform="translate(235.2,966.7) scale(1,0.477)" textLength="24.6" lengthAdjust="spacingAndGlyphs">G</text>
<text class="L lg" transform="translate(235.2,995) scale(1,0.386)" textLength="24.6" lengthAdjust="spacingAndGlyphs">S</text>
<text class="L lk" transform="translate(235.2,1007.5) scale(1,0.157)" textLength="24.6" lengthAdjust="spacingAndGlyphs">A</text>
<text class="L lk" transform="translate(235.2,1012.5) scale(1,0.064)" textLength="24.6" lengthAdjust="spacingAndGlyphs">L</text>

<text class="L lk" transform="translate(261.05,1013.3) scale(1,2.214)" textLength="24.6" lengthAdjust="spacingAndGlyphs">F</text>

<text class="L lb" transform="translate(286.9,972.3) scale(1,0.233)" textLength="24.6" lengthAdjust="spacingAndGlyphs">R</text>
<text class="L lg" transform="translate(286.9,986.3) scale(1,0.186)" textLength="24.6" lengthAdjust="spacingAndGlyphs">S</text>
<text class="L lb" transform="translate(286.9,993.3) scale(1,0.09)" textLength="24.6" lengthAdjust="spacingAndGlyphs">H</text>
<text class="L lm" transform="translate(286.9,1002.5) scale(1,0.114)" textLength="24.6" lengthAdjust="spacingAndGlyphs">Q</text>
<text class="L lg" transform="translate(286.9,1013.3) scale(1,0.143)" textLength="24.6" lengthAdjust="spacingAndGlyphs">Y</text>

<text class="L lg" transform="translate(312.75,993.3) scale(1,1.5)" textLength="24.6" lengthAdjust="spacingAndGlyphs">T</text>
<text class="L lg" transform="translate(312.75,1010) scale(1,0.229)" textLength="24.6" lengthAdjust="spacingAndGlyphs">S</text>

<text class="L lk" transform="translate(338.6,1005) scale(1,1.857)" textLength="24.6" lengthAdjust="spacingAndGlyphs">A</text>
<text class="L lg" transform="translate(338.6,1013.3) scale(1,0.109)" textLength="24.6" lengthAdjust="spacingAndGlyphs">S</text>

<text class="L lg" transform="translate(364.45,988.3) scale(1,1.047)" textLength="24.6" lengthAdjust="spacingAndGlyphs">S</text>
<text class="L lb" transform="translate(364.45,1000) scale(1,0.157)" textLength="24.6" lengthAdjust="spacingAndGlyphs">H</text>
<text class="L lk" transform="translate(364.45,1006) scale(1,0.079)" textLength="24.6" lengthAdjust="spacingAndGlyphs">L</text>
<text class="L lb" transform="translate(364.45,1012) scale(1,0.071)" textLength="24.6" lengthAdjust="spacingAndGlyphs">A</text>

<text class="L lg" transform="translate(390.3,980) scale(1,1.157)" textLength="24.6" lengthAdjust="spacingAndGlyphs">G</text>
<text class="L lm" transform="translate(390.3,1011) scale(1,0.419)" textLength="24.6" lengthAdjust="spacingAndGlyphs">N</text>

<text class="L lb" transform="translate(416.15,990) scale(1,1.371)" textLength="24.6" lengthAdjust="spacingAndGlyphs">K</text>
<text class="L lg" transform="translate(416.15,1005) scale(1,0.204)" textLength="24.6" lengthAdjust="spacingAndGlyphs">T</text>
<text class="L lb" transform="translate(416.15,1013.3) scale(1,0.104)" textLength="24.6" lengthAdjust="spacingAndGlyphs">R</text>

<text class="L lb" transform="translate(442,990) scale(1,0.11)" textLength="24.6" lengthAdjust="spacingAndGlyphs">K</text>
<text class="L lr" transform="translate(442,994) scale(1,0.05)" textLength="24.6" lengthAdjust="spacingAndGlyphs">E</text>
<text class="L lm" transform="translate(442,999) scale(1,0.071)" textLength="24.6" lengthAdjust="spacingAndGlyphs">N</text>
<text class="L lk" transform="translate(442,1003) scale(1,0.05)" textLength="24.6" lengthAdjust="spacingAndGlyphs">L</text>
<text class="L lg" transform="translate(442,1007) scale(1,0.05)" textLength="24.6" lengthAdjust="spacingAndGlyphs">S</text>
<text class="L lb" transform="translate(442,1011) scale(1,0.05)" textLength="24.6" lengthAdjust="spacingAndGlyphs">K</text>

<text class="L lk" transform="translate(480.15,963.3) scale(0.35,0.523)" text-anchor="middle">I</text>
<text class="L lk" transform="translate(467.85,995) scale(1,0.419)" textLength="24.6" lengthAdjust="spacingAndGlyphs">V</text>
<text class="L lk" transform="translate(467.85,1008.3) scale(1,0.166)" textLength="24.6" lengthAdjust="spacingAndGlyphs">L</text>
<text class="L lg" transform="translate(467.85,1013.3) scale(1,0.071)" textLength="24.6" lengthAdjust="spacingAndGlyphs">T</text>

<text class="L lb" transform="translate(493.7,988.3) scale(1,0.094)" textLength="24.6" lengthAdjust="spacingAndGlyphs">K</text>
<text class="L lg" transform="translate(493.7,994) scale(1,0.071)" textLength="24.6" lengthAdjust="spacingAndGlyphs">S</text>
<text class="L lm" transform="translate(493.7,999) scale(1,0.064)" textLength="24.6" lengthAdjust="spacingAndGlyphs">E</text>
<text class="L lk" transform="translate(493.7,1004) scale(1,0.064)" textLength="24.6" lengthAdjust="spacingAndGlyphs">K</text>
<text class="L lx" transform="translate(493.7,1008) scale(1,0.05)" textLength="24.6" lengthAdjust="spacingAndGlyphs">L</text>
<text class="L lg" transform="translate(493.7,1012) scale(1,0.05)" textLength="24.6" lengthAdjust="spacingAndGlyphs">S</text>

<text class="L lk" transform="translate(519.55,971.7) scale(1,0.857)" textLength="24.6" lengthAdjust="spacingAndGlyphs">V</text>
<text class="L lk" transform="translate(531.85,1000) scale(0.35,0.404)" text-anchor="middle">I</text>
<text class="L lk" transform="translate(519.55,1013.3) scale(1,0.19)" textLength="24.6" lengthAdjust="spacingAndGlyphs">L</text>

<text class="L lg" transform="translate(545.4,988.3) scale(1,1.071)" textLength="24.6" lengthAdjust="spacingAndGlyphs">S</text>
<text class="L lk" transform="translate(545.4,996.7) scale(1,0.12)" textLength="24.6" lengthAdjust="spacingAndGlyphs">A</text>
<text class="L lk" transform="translate(545.4,1003.3) scale(1,0.08)" textLength="24.6" lengthAdjust="spacingAndGlyphs">M</text>
<text class="L lg" transform="translate(557.7,1012) scale(0.35,0.114)" text-anchor="middle">I</text>

<text class="L lr" transform="translate(571.25,981.7) scale(1,0.277)" textLength="24.6" lengthAdjust="spacingAndGlyphs">E</text>
<text class="L lb" transform="translate(571.25,990.7) scale(1,0.114)" textLength="24.6" lengthAdjust="spacingAndGlyphs">K</text>
<text class="L lr" transform="translate(571.25,996.5) scale(1,0.079)" textLength="24.6" lengthAdjust="spacingAndGlyphs">D</text>
<text class="L lm" transform="translate(571.25,1002) scale(1,0.071)" textLength="24.6" lengthAdjust="spacingAndGlyphs">Q</text>
<text class="L lm" transform="translate(571.25,1008) scale(1,0.079)" textLength="24.6" lengthAdjust="spacingAndGlyphs">N</text>
<text class="L lx" transform="translate(571.25,1012) scale(1,0.05)" textLength="24.6" lengthAdjust="spacingAndGlyphs">S</text>

<text class="L lr" transform="translate(597.1,976.7) scale(1,0.334)" textLength="24.6" lengthAdjust="spacingAndGlyphs">E</text>
<text class="L lk" transform="translate(597.1,988.3) scale(1,0.157)" textLength="24.6" lengthAdjust="spacingAndGlyphs">A</text>
<text class="L lg" transform="translate(597.1,996.7) scale(1,0.106)" textLength="24.6" lengthAdjust="spacingAndGlyphs">S</text>
<text class="L lb" transform="translate(597.1,1002) scale(1,0.071)" textLength="24.6" lengthAdjust="spacingAndGlyphs">H</text>
<text class="L lm" transform="translate(597.1,1010) scale(1,0.107)" textLength="24.6" lengthAdjust="spacingAndGlyphs">N</text>

<text class="L lg" transform="translate(622.95,970) scale(1,0.476)" textLength="24.6" lengthAdjust="spacingAndGlyphs">S</text>
<text class="L lk" transform="translate(622.95,990) scale(1,0.239)" textLength="24.6" lengthAdjust="spacingAndGlyphs">A</text>
<text class="L lm" transform="translate(622.95,1001.7) scale(1,0.157)" textLength="24.6" lengthAdjust="spacingAndGlyphs">N</text>
<text class="L lg" transform="translate(622.95,1010.7) scale(1,0.129)" textLength="24.6" lengthAdjust="spacingAndGlyphs">T</text>

<text class="L lk" transform="translate(648.8,981.7) scale(1,0.796)" textLength="24.6" lengthAdjust="spacingAndGlyphs">L</text>
<text class="L lk" transform="translate(661.1,993.3) scale(0.35,0.143)" text-anchor="middle">I</text>
<text class="L lb" transform="translate(648.8,1002.7) scale(1,0.124)" textLength="24.6" lengthAdjust="spacingAndGlyphs">K</text>
<text class="L lk" transform="translate(648.8,1009.3) scale(1,0.094)" textLength="24.6" lengthAdjust="spacingAndGlyphs">V</text>
<text class="L lr" transform="translate(648.8,1012.5) scale(1,0.043)" textLength="24.6" lengthAdjust="spacingAndGlyphs">E</text>

<text class="L lb" transform="translate(674.65,993.3) scale(1,0.094)" textLength="24.6" lengthAdjust="spacingAndGlyphs">K</text>
<text class="L lr" transform="translate(674.65,998) scale(1,0.064)" textLength="24.6" lengthAdjust="spacingAndGlyphs">E</text>
<text class="L lm" transform="translate(674.65,1003) scale(1,0.064)" textLength="24.6" lengthAdjust="spacingAndGlyphs">N</text>
<text class="L lb" transform="translate(674.65,1007) scale(1,0.05)" textLength="24.6" lengthAdjust="spacingAndGlyphs">K</text>
<text class="L lx" transform="translate(674.65,1011) scale(1,0.057)" textLength="24.6" lengthAdjust="spacingAndGlyphs">S</text>

<text class="L lb" transform="translate(700.5,997.3) scale(1,1.557)" textLength="24.6" lengthAdjust="spacingAndGlyphs">K</text>
<text class="L lr" transform="translate(700.5,1006.7) scale(1,0.12)" textLength="24.6" lengthAdjust="spacingAndGlyphs">E</text>
<text class="L lb" transform="translate(700.5,1013.3) scale(1,0.086)" textLength="24.6" lengthAdjust="spacingAndGlyphs">N</text>

<text class="L lk" transform="translate(726.35,966.7) scale(1,0.5)" textLength="24.6" lengthAdjust="spacingAndGlyphs">V</text>
<text class="L lk" transform="translate(726.35,990) scale(1,0.31)" textLength="24.6" lengthAdjust="spacingAndGlyphs">A</text>
<text class="L lg" transform="translate(726.35,1008.3) scale(1,0.237)" textLength="24.6" lengthAdjust="spacingAndGlyphs">S</text>
<text class="L lg" transform="translate(726.35,1011.5) scale(1,0.043)" textLength="24.6" lengthAdjust="spacingAndGlyphs">T</text>

<text class="L lb" transform="translate(752.2,976.7) scale(1,0.514)" textLength="24.6" lengthAdjust="spacingAndGlyphs">K</text>
<text class="L lk" transform="translate(752.2,986.7) scale(1,0.134)" textLength="24.6" lengthAdjust="spacingAndGlyphs">A</text>
<text class="L lb" transform="translate(752.2,995) scale(1,0.11)" textLength="24.6" lengthAdjust="spacingAndGlyphs">R</text>
<text class="L lk" transform="translate(752.2,1006.7) scale(1,0.153)" textLength="24.6" lengthAdjust="spacingAndGlyphs">V</text>
<text class="L lk" transform="translate(752.2,1012) scale(1,0.071)" textLength="24.6" lengthAdjust="spacingAndGlyphs">M</text>

<text class="L lm" transform="translate(778.05,970) scale(1,0.214)" textLength="24.6" lengthAdjust="spacingAndGlyphs">N</text>
<text class="L lm" transform="translate(778.05,981.7) scale(1,0.153)" textLength="24.6" lengthAdjust="spacingAndGlyphs">Q</text>
<text class="L lb" transform="translate(778.05,993.3) scale(1,0.151)" textLength="24.6" lengthAdjust="spacingAndGlyphs">K</text>
<text class="L lk" transform="translate(778.05,1004) scale(1,0.143)" textLength="24.6" lengthAdjust="spacingAndGlyphs">M</text>
<text class="L lg" transform="translate(778.05,1011.7) scale(1,0.096)" textLength="24.6" lengthAdjust="spacingAndGlyphs">G</text>

<text class="L lk" transform="translate(803.9,970) scale(1,0.247)" textLength="24.6" lengthAdjust="spacingAndGlyphs">L</text>
<text class="L lk" transform="translate(803.9,986.7) scale(1,0.224)" textLength="24.6" lengthAdjust="spacingAndGlyphs">F</text>
<text class="L lk" transform="translate(803.9,1000) scale(1,0.167)" textLength="24.6" lengthAdjust="spacingAndGlyphs">Y</text>
<text class="L lk" transform="translate(816.2,1006) scale(0.35,0.079)" text-anchor="middle">I</text>
<text class="L lk" transform="translate(803.9,1012.7) scale(1,0.081)" textLength="24.6" lengthAdjust="spacingAndGlyphs">V</text>

<text class="L lk" transform="translate(829.75,971.7) scale(1,0.891)" textLength="24.6" lengthAdjust="spacingAndGlyphs">F</text>
<text class="L lk" transform="translate(829.75,1002) scale(1,0.429)" textLength="24.6" lengthAdjust="spacingAndGlyphs">L</text>
<text class="L lk" transform="translate(829.75,1013.3) scale(1,0.143)" textLength="24.6" lengthAdjust="spacingAndGlyphs">M</text>

<text class="L lg" transform="translate(855.6,978.3) scale(1,0.261)" textLength="24.6" lengthAdjust="spacingAndGlyphs">S</text>
<text class="L lr" transform="translate(855.6,988.3) scale(1,0.129)" textLength="24.6" lengthAdjust="spacingAndGlyphs">D</text>
<text class="L lr" transform="translate(855.6,996) scale(1,0.1)" textLength="24.6" lengthAdjust="spacingAndGlyphs">E</text>
<text class="L lb" transform="translate(855.6,1004.3) scale(1,0.094)" textLength="24.6" lengthAdjust="spacingAndGlyphs">K</text>
<text class="L lm" transform="translate(855.6,1008) scale(1,0.05)" textLength="24.6" lengthAdjust="spacingAndGlyphs">Q</text>
<text class="L lx" transform="translate(855.6,1012) scale(1,0.05)" textLength="24.6" lengthAdjust="spacingAndGlyphs">T</text>

<text class="L lr" transform="translate(881.45,973.3) scale(1,0.561)" textLength="24.6" lengthAdjust="spacingAndGlyphs">E</text>
<text class="L lr" transform="translate(881.45,995) scale(1,0.3)" textLength="24.6" lengthAdjust="spacingAndGlyphs">D</text>
<text class="L lm" transform="translate(881.45,1004.3) scale(1,0.119)" textLength="24.6" lengthAdjust="spacingAndGlyphs">Q</text>
<text class="L lb" transform="translate(881.45,1008) scale(1,0.043)" textLength="24.6" lengthAdjust="spacingAndGlyphs">K</text>
<text class="L lg" transform="translate(881.45,1012) scale(1,0.05)" textLength="24.6" lengthAdjust="spacingAndGlyphs">S</text>

<text class="L lk" transform="translate(919.6,988.3) scale(0.35,0.166)" text-anchor="middle">I</text>
<text class="L lk" transform="translate(907.3,996.7) scale(1,0.12)" textLength="24.6" lengthAdjust="spacingAndGlyphs">F</text>
<text class="L lb" transform="translate(907.3,1001) scale(1,0.057)" textLength="24.6" lengthAdjust="spacingAndGlyphs">K</text>
<text class="L lg" transform="translate(907.3,1005) scale(1,0.05)" textLength="24.6" lengthAdjust="spacingAndGlyphs">S</text>
<text class="L lg" transform="translate(907.3,1009) scale(1,0.05)" textLength="24.6" lengthAdjust="spacingAndGlyphs">T</text>
<text class="L lx" transform="translate(907.3,1012.5) scale(1,0.043)" textLength="24.6" lengthAdjust="spacingAndGlyphs">A</text>

<text class="L lr" transform="translate(933.15,981) scale(1,0.347)" textLength="24.6" lengthAdjust="spacingAndGlyphs">E</text>
<text class="L lr" transform="translate(933.15,992.7) scale(1,0.157)" textLength="24.6" lengthAdjust="spacingAndGlyphs">D</text>
<text class="L lm" transform="translate(933.15,1001.7) scale(1,0.12)" textLength="24.6" lengthAdjust="spacingAndGlyphs">Q</text>
<text class="L lg" transform="translate(933.15,1005.5) scale(1,0.05)" textLength="24.6" lengthAdjust="spacingAndGlyphs">T</text>
<text class="L lk" transform="translate(933.15,1009.5) scale(1,0.05)" textLength="24.6" lengthAdjust="spacingAndGlyphs">L</text>
<text class="L lb" transform="translate(933.15,1012.5) scale(1,0.036)" textLength="24.6" lengthAdjust="spacingAndGlyphs">K</text>

<text class="L lr" transform="translate(959,996) scale(1,0.053)" textLength="24.6" lengthAdjust="spacingAndGlyphs">E</text>
<text class="L lx" transform="translate(959,1000) scale(1,0.05)" textLength="24.6" lengthAdjust="spacingAndGlyphs">G</text>
<text class="L lk" transform="translate(959,1004) scale(1,0.057)" textLength="24.6" lengthAdjust="spacingAndGlyphs">L</text>
<text class="L lr" transform="translate(959,1007) scale(1,0.043)" textLength="24.6" lengthAdjust="spacingAndGlyphs">E</text>
<text class="L lg" transform="translate(959,1010.5) scale(1,0.043)" textLength="24.6" lengthAdjust="spacingAndGlyphs">S</text>
<text class="L lx" transform="translate(959,1013) scale(1,0.036)" textLength="24.6" lengthAdjust="spacingAndGlyphs">A</text>
</g>
<g id="site-arrows" stroke="#444" stroke-width="0.8" marker-end="url(#ah)">
<path d="M325.05 1053 V1030"/>
<path d="M350.9 1053 V1030"/>
<path d="M428.45 1053 V1030"/>
<path d="M480.15 1053 V1030"/>
<path d="M557.7 1053 V1030"/>
<path d="M583.55 1053 V1030"/>
<path d="M609.4 1053 V1030"/>
<path d="M712.8 1053 V1030"/>
<path d="M738.65 1053 V1030"/>
<path d="M790.35 1053 V1030"/>
<path d="M816.2 1053 V1030"/>
</g>
<g id="site-labels" class="al" text-anchor="middle">
<text x="325.05" y="1075">T</text>
<text x="350.9" y="1075">A</text>
<text x="428.45" y="1075">K</text>
<text x="480.15" y="1075">I</text>
<text x="557.7" y="1075">S</text>
<text x="583.55" y="1075">E</text>
<text x="609.4" y="1075">E</text>
<text x="712.8" y="1075">K</text>
<text x="738.65" y="1075">A</text>
<text x="790.35" y="1075">K</text>
<text x="816.2" y="1075">L</text>
</g>
</g>
</svg>
